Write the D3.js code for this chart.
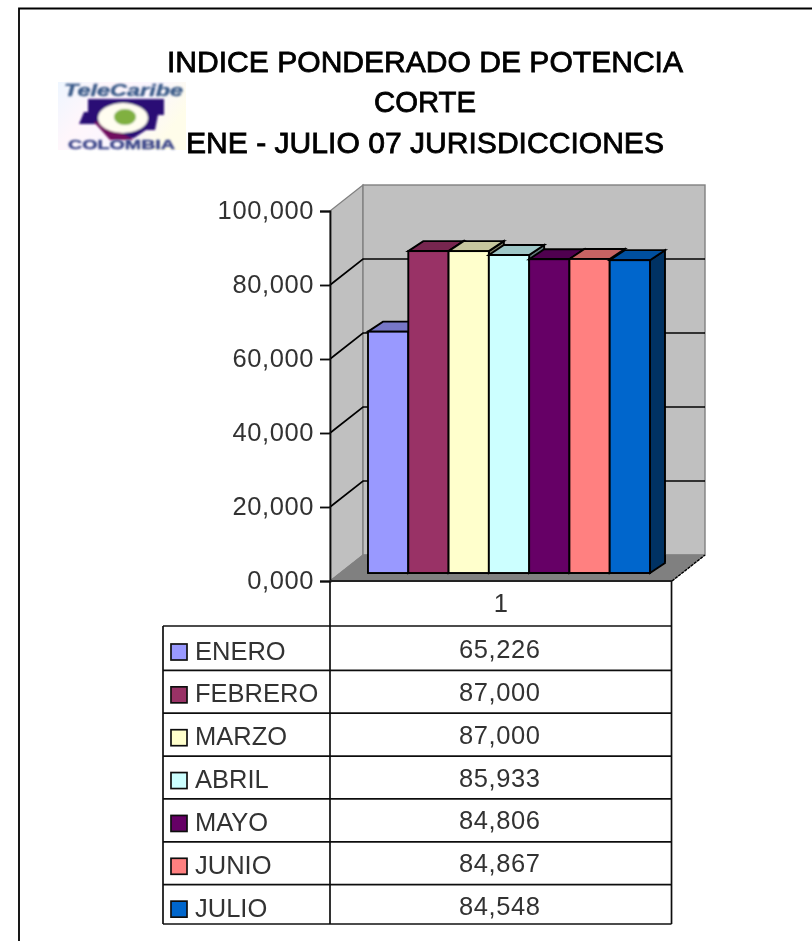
<!DOCTYPE html>
<html><head><meta charset="utf-8">
<script src="https://cdn.jsdelivr.net/npm/d3@7"></script>
<style>html,body{margin:0;padding:0;background:#fff;overflow:hidden}svg{display:block}text{font-family:"Liberation Sans",Arial,sans-serif}</style>
</head><body><div id="chart"></div>
<script>
const titleLines = ["INDICE PONDERADO DE POTENCIA", "CORTE", "ENE - JULIO 07 JURISDICCIONES"];
const months = ["ENERO","FEBRERO","MARZO","ABRIL","MAYO","JUNIO","JULIO"];
const values = [65.226,87.000,87.000,85.933,84.806,84.867,84.548];
const colors = ["#9999FF","#993366","#FFFFCC","#CCFFFF","#660066","#FF8080","#0066CC"];
const yTicks = [0,20,40,60,80,100];
const category = "1";

const W=812,H=941;
const svg=d3.select("#chart").append("svg").attr("width",W).attr("height",H);
const defs=svg.append("defs");
defs.append("filter").attr("id","soft").attr("x","-5%").attr("y","-5%").attr("width","110%").attr("height","110%")
  .append("feGaussianBlur").attr("stdDeviation",0.5);
defs.append("filter").attr("id","logoBlur").attr("x","-10%").attr("y","-10%").attr("width","120%").attr("height","120%")
  .append("feGaussianBlur").attr("stdDeviation",1.3);
defs.append("filter").attr("id","logoTextBlur").attr("x","-10%").attr("y","-30%").attr("width","120%").attr("height","160%")
  .append("feGaussianBlur").attr("stdDeviation",0.8);
const lg=defs.append("linearGradient").attr("id","logoBg").attr("x1",0).attr("x2",1).attr("y1",0).attr("y2",0.4);
[["0","#eef6ff"],["0.35","#fff6fb"],["0.7","#faf6ff"],["1","#fffdea"]].forEach(s=>lg.append("stop").attr("offset",s[0]).attr("stop-color",s[1]));

const g=svg.append("g").attr("filter","url(#soft)");

// frame
g.append("path").attr("d",`M19,${H+5}V8.5H${W+5}`).attr("fill","none").attr("stroke","#000").attr("stroke-width",1.8);

// logo
const logo=g.append("g");
logo.append("rect").attr("x",58).attr("y",82).attr("width",128).attr("height",68).attr("fill","url(#logoBg)");
const lb=logo.append("g").attr("filter","url(#logoBlur)");
lb.append("path").attr("d","M88,99H164V115L158,115L155,130H146L134,138H110L96,124H79L84,112H88Z").attr("fill","#2a0f75");
lb.append("path").attr("d","M94,122L110,140H134L120,132L104,120Z").attr("fill","#701060");
lb.append("ellipse").attr("cx",123).attr("cy",118).attr("rx",25).attr("ry",15).attr("fill","#fffdf0");
lb.append("ellipse").attr("cx",125).attr("cy",117).attr("rx",11).attr("ry",8).attr("fill","#80b040");
const lt=logo.append("g").attr("filter","url(#logoTextBlur)");
lt.append("text").attr("x",64).attr("y",96).attr("font-size",17).attr("font-weight","bold").attr("font-style","italic")
  .attr("textLength",119).attr("lengthAdjust","spacingAndGlyphs").attr("fill","#3a5a88").attr("stroke","#3a5a88").attr("stroke-width",0.4).text("TeleCaribe");
lt.append("text").attr("x",68).attr("y",149).attr("font-size",13).attr("font-weight","bold")
  .attr("textLength",107).attr("lengthAdjust","spacingAndGlyphs").attr("fill","#3a4488").attr("stroke","#3a4488").attr("stroke-width",0.4).text("COLOMBIA");

// title
g.selectAll("text.title").data(titleLines).join("text").attr("class","title")
  .attr("x",425).attr("y",(d,i)=>72+i*40.3).attr("text-anchor","middle")
  .attr("font-size",30).attr("fill","#000").attr("stroke","#000").attr("stroke-width",0.8)
  .attr("textLength",(d,i)=>[516,102,478][i]).attr("lengthAdjust","spacingAndGlyphs").text(d=>d);

// geometry
const axisX=330, plotW=342, depthX=33, depthY=26, yBase=581, plotH=370;
const fmt=d3.formatLocale({decimal:",",thousands:"."}).format(".3f");
const yAxisScale=d3.scaleLinear().domain([0,100]).range([yBase,yBase-plotH]);
const yWall=v=>yAxisScale(v)-depthY;
const yBar=d3.scaleLinear().domain([0,100]).range([573,573-plotH]);
const x=d3.scaleBand().domain(months).range([368,650]).padding(0);
const path=d3.line();

// walls
g.append("path").attr("d",path([[axisX,yAxisScale(100)],[axisX+depthX,yWall(100)],[axisX+depthX,yWall(0)],[axisX,yBase]])+"Z")
  .attr("fill","#c0c0c0").attr("stroke","#808080").attr("stroke-width",1.2);
g.append("rect").attr("x",axisX+depthX).attr("y",yWall(100)).attr("width",plotW).attr("height",plotH)
  .attr("fill","#c0c0c0").attr("stroke","#808080").attr("stroke-width",1.4);
g.append("path").attr("d",path([[axisX,yBase],[axisX+depthX,yWall(0)],[axisX+depthX+plotW,yWall(0)],[axisX+plotW,yBase]])+"Z")
  .attr("fill","#808080").attr("stroke","#808080");
g.append("line").attr("x1",axisX+plotW).attr("y1",yBase).attr("x2",axisX+plotW+depthX).attr("y2",yWall(0))
  .attr("stroke","#000").attr("stroke-width",1.4).attr("stroke-dasharray","3 1");

// gridlines
const gridTicks=yTicks.filter(t=>t>0&&t<100);
g.selectAll("path.grid").data(gridTicks).join("path").attr("class","grid")
  .attr("d",t=>path([[axisX,yAxisScale(t)],[axisX+depthX,yWall(t)],[axisX+depthX+plotW,yWall(t)]]))
  .attr("fill","none").attr("stroke","#000").attr("stroke-width",1.7);

// bars
const bd=[15,10];
const shade=(c,k)=>d3.rgb(c).darker(k).formatHex();
const bars=g.selectAll("g.bar").data(months.map((m,i)=>({m,v:values[i],c:colors[i]}))).join("g").attr("class","bar");
bars.each(function(d){
  const s=d3.select(this), x0=x(d.m), x1=x0+x.bandwidth(), yt=yBar(d.v), yb=yBar(0);
  s.append("path").attr("d",path([[x1,yt],[x1+bd[0],yt-bd[1]],[x1+bd[0],yb-bd[1]],[x1,yb]])+"Z")
    .attr("fill",shade(d.c,2)).attr("stroke","#000").attr("stroke-width",1.9);
  s.append("path").attr("d",path([[x0,yt],[x0+bd[0],yt-bd[1]],[x1+bd[0],yt-bd[1]],[x1,yt]])+"Z")
    .attr("fill",shade(d.c,0.7)).attr("stroke","#000").attr("stroke-width",1.9);
  s.append("rect").attr("x",x0).attr("y",yt).attr("width",x.bandwidth()).attr("height",yb-yt)
    .attr("fill",d.c).attr("stroke","#000").attr("stroke-width",1.9);
});

// axis
const ax=g.append("g").attr("transform",`translate(${axisX},0)`)
  .call(d3.axisLeft(yAxisScale).tickValues(yTicks).tickFormat(fmt).tickSize(10).tickPadding(6));
ax.selectAll("path,line").attr("stroke","#111").attr("stroke-width",1.8);
ax.selectAll("text").attr("font-size",25.5).attr("fill","#333").attr("letter-spacing",0.6)
  .attr("font-family",'"Liberation Sans",Arial,sans-serif').attr("dy","0.31em");
g.append("line").attr("x1",axisX).attr("x2",axisX+plotW).attr("y1",yBase).attr("y2",yBase).attr("stroke","#222").attr("stroke-width",2.2);

// data table
const tableLeft=163, tableRight=671.5, tableTop=626, tableBottom=924;
const row=d3.scaleBand().domain(months).range([627.5,927.5]);
const lineCol="#111";
const tl=(x1,y1,x2,y2)=>g.append("line").attr("x1",x1).attr("y1",y1).attr("x2",x2).attr("y2",y2).attr("stroke",lineCol).attr("stroke-width",1.7);
tl(axisX,yBase,axisX,tableBottom);
tl(tableRight,yBase,tableRight,tableBottom);
tl(tableLeft,tableTop,tableLeft,tableBottom);
tl(tableLeft,tableTop,tableRight,tableTop);
tl(tableLeft,tableBottom,tableRight,tableBottom);
months.slice(1).forEach(m=>tl(tableLeft,row(m),tableRight,row(m)));
const valX=(axisX+tableRight)/2;
g.append("text").attr("x",valX).attr("y",612).attr("text-anchor","middle").attr("font-size",25.5).attr("fill","#333").text(category);
const rows=g.selectAll("g.row").data(months.map((m,i)=>({m,v:values[i],c:colors[i]}))).join("g").attr("class","row")
  .attr("transform",d=>`translate(0,${row(d.m)})`);
rows.append("rect").attr("x",171).attr("y",16.5).attr("width",16).attr("height",16).attr("fill",d=>d.c).attr("stroke","#111").attr("stroke-width",1.7);
rows.append("text").attr("x",195).attr("y",32).attr("font-size",25.5).attr("fill","#333").text(d=>d.m);
rows.append("text").attr("x",valX-1).attr("y",30.5).attr("text-anchor","middle").attr("font-size",25.5).attr("letter-spacing",0.6).attr("fill","#333").text(d=>fmt(d.v));
</script></body></html>
